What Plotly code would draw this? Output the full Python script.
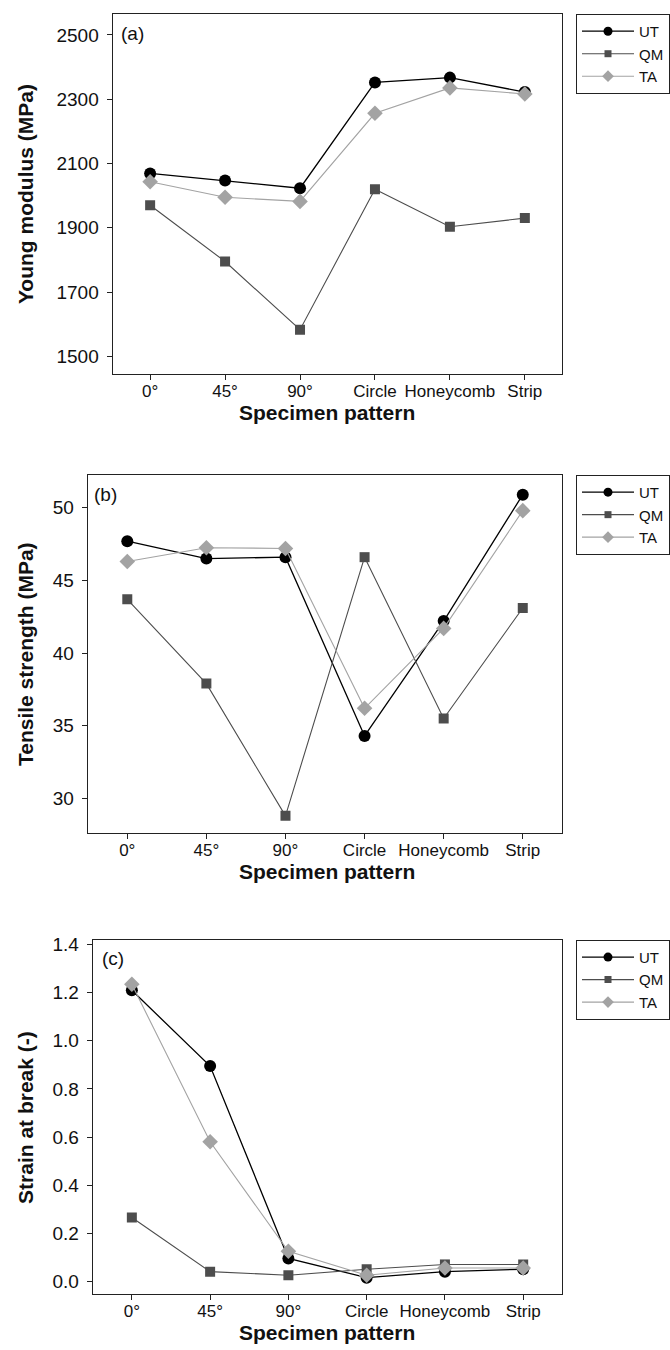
import plotly.graph_objects as go

W, H = 670, 1350

categories = ["0°", "45°", "90°", "Circle", "Honeycomb", "Strip"]
series_names = ["UT", "QM", "TA"]

young_UT = [2069, 2047, 2023, 2352, 2367, 2322]
young_QM = [1970, 1795, 1583, 2020, 1903, 1930]
young_TA = [2043, 1995, 1982, 2256, 2335, 2316]

tensile_UT = [47.7, 46.5, 46.6, 34.3, 42.2, 50.9]
tensile_QM = [43.7, 37.9, 28.8, 46.6, 35.5, 43.1]
tensile_TA = [46.3, 47.25, 47.2, 36.2, 41.7, 49.8]

strain_UT = [1.21, 0.895, 0.095, 0.015, 0.04, 0.05]
strain_QM = [0.265, 0.04, 0.025, 0.05, 0.07, 0.07]
strain_TA = [1.235, 0.58, 0.125, 0.025, 0.055, 0.055]

y_titles = ["Young modulus (MPa)", "Tensile strength (MPa)", "Strain at break (-)"]
panel_labels = ["(a)", "(b)", "(c)"]
x_title = "Specimen pattern"

FONT = "Liberation Sans, Arial, sans-serif"
styles = {
    "UT": dict(color="#000000", symbol="circle", size=12, lw=1.3, lsize=9),
    "QM": dict(color="#4d4d4d", symbol="square", size=10, lw=1.1, lsize=7),
    "TA": dict(color="#a3a3a3", symbol="diamond", size=12, lw=1.1, lsize=9),
}

# pixel geometry of the three panels: (left, right, top, bottom)
panels = [(113, 564, 8, 370), (88, 564, 471, 831), (93, 564, 938, 1294)]
yranges = [[1444, 2565], [27.6, 52.26], [-0.054, 1.42]]
ytickvals = [[1500, 1700, 1900, 2100, 2300, 2500], [30, 35, 40, 45, 50],
             [0.0, 0.2, 0.4, 0.6, 0.8, 1.0, 1.2, 1.4]]
yticktext = [[str(v) for v in ytickvals[0]], [str(v) for v in ytickvals[1]],
             [f"{v:.1f}" for v in ytickvals[2]]]
label_left = [119, 92, 100]
label_dy = [20, 20, 19]

data = [
    [young_UT, young_QM, young_TA],
    [tensile_UT, tensile_QM, tensile_TA],
    [strain_UT, strain_QM, strain_TA],
]

def px(x):
    return x / W

def py(y):
    return 1 - y / H

fig = go.Figure()
annotations = []
layout = {}
for i, (panel, series) in enumerate(zip(panels, data)):
    l, r, t, b = panel
    n = "" if i == 0 else str(i + 1)
    legname = "legend" + n
    for name, vals in zip(series_names, series):
        s = styles[name]
        fig.add_trace(go.Scatter(
            x=categories, y=vals, name=name, mode="lines+markers",
            line=dict(color=s["color"], width=s["lw"]),
            marker=dict(color=s["color"], symbol=s["symbol"], size=s["size"],
                        line=dict(width=0)),
            xaxis="x" + n, yaxis="y" + n, showlegend=False,
        ))
    # legend entries (smaller markers, like the reference legend)
    for name in series_names:
        s = styles[name]
        fig.add_trace(go.Scatter(
            x=[None], y=[None], name=name, mode="lines+markers",
            line=dict(color=s["color"], width=s["lw"]),
            marker=dict(color=s["color"], symbol=s["symbol"], size=s["lsize"],
                        line=dict(width=0)),
            xaxis="x" + n, yaxis="y" + n, legend=legname, showlegend=True,
        ))
    axis_common = dict(showline=True, mirror=True, linecolor="#222222", linewidth=1.2,
                       ticks="outside", ticklen=5, tickcolor="#222222", showgrid=False,
                       zeroline=False)
    layout["xaxis" + n] = dict(
        domain=[px(l), px(r)], anchor="y" + n, type="category",
        range=[-0.5, 5.5], tickfont=dict(size=17, family=FONT, color="#111111"),
        ticklabelstandoff=-4, **axis_common)
    layout["yaxis" + n] = dict(
        domain=[py(b), py(t)], anchor="x" + n, range=yranges[i],
        tickvals=ytickvals[i], ticktext=yticktext[i], ticklabelstandoff=4,
        tickfont=dict(size=19, family=FONT, color="#111111"), **axis_common)
    layout[legname] = dict(
        x=px(578), y=py(t), xanchor="left", yanchor="top",
        bordercolor="#222222", borderwidth=1, bgcolor="white",
        font=dict(size=15, family=FONT, color="#111111"),
        tracegroupgap=0, itemwidth=52,
    )
    annotations.append(dict(
        text=panel_labels[i], x=px(label_left[i]), y=py(t + label_dy[i]),
        xref="paper", yref="paper",
        xanchor="left", yanchor="middle", showarrow=False,
        font=dict(size=19, family=FONT, color="#111111")))
    annotations.append(dict(
        text="<b>" + y_titles[i] + "</b>", x=px(25), y=py((t + b) / 2),
        xref="paper", yref="paper", xanchor="center", yanchor="middle",
        textangle=-90, showarrow=False,
        font=dict(size=21, family=FONT, color="#111111")))
    annotations.append(dict(
        text="<b>" + x_title + "</b>", x=px(328), y=py(b + 38),
        xref="paper", yref="paper", xanchor="center", yanchor="middle",
        showarrow=False, font=dict(size=21, family=FONT, color="#111111")))

fig.update_layout(
    width=W, height=H, margin=dict(l=0, r=0, t=0, b=0),
    paper_bgcolor="white", plot_bgcolor="white",
    annotations=annotations,
    font=dict(family=FONT),
    **layout,
)
fig.write_html("out.html")
